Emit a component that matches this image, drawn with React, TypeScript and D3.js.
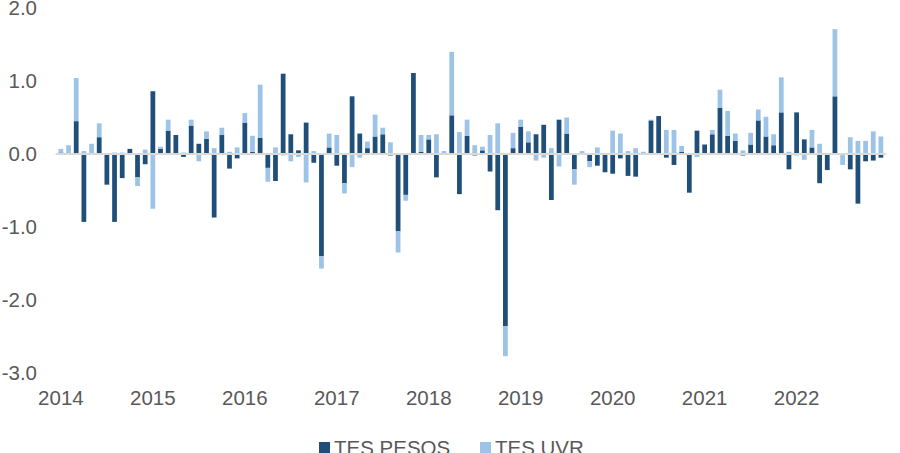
import React from 'react';
import * as d3 from 'd3';

const years = ['2014', '2015', '2016', '2017', '2018', '2019', '2020', '2021', '2022'];
const months = years.flatMap(y => d3.range(1, 13).map(m => `${y}-${String(m).padStart(2, '0')}`));

const tesPesos = [
  0.02, 0, 0.45, -0.93, 0, 0.23, -0.42, -0.93, -0.33, 0.07, -0.32, -0.14,
  0.86, 0.07, 0.32, 0.26, -0.04, 0.39, 0.14, 0.21, -0.87, 0.26, -0.2, -0.06,
  0.43, 0.03, 0.22, -0.19, -0.37, 1.1, 0.27, 0.05, 0.43, -0.12, -1.4, 0.09,
  -0.16, -0.4, 0.79, 0.28, 0.08, 0.24, 0.27, -0.02, -1.06, -0.56, 1.11, 0.03,
  0.2, -0.32, 0, 0.53, -0.55, 0.25, -0.02, 0.05, -0.24, -0.77, -2.36, 0.08,
  0.37, 0.16, 0.27, 0.4, -0.63, 0.47, 0.28, -0.21, 0, -0.1, -0.16, -0.25,
  -0.27, -0.06, -0.3, -0.31, 0, 0.46, 0.52, -0.05, -0.15, 0.03, -0.53, 0.32,
  0.13, 0.27, 0.63, 0.25, 0.18, -0.02, 0.13, 0.46, 0.24, 0.12, 0.57, -0.21,
  0.57, 0.2, 0.09, -0.4, -0.22, 0.79, 0, -0.21, -0.68, -0.1, -0.09, -0.05
];

const tesUvr = [
  0.05, 0.12, 0.59, 0.04, 0.14, 0.19, 0, 0.02, 0.02, 0, -0.12, 0.06,
  -0.75, 0.03, 0.15, 0, 0.02, 0.08, -0.1, 0.1, 0.08, 0.1, 0.03, 0.09,
  0.13, 0.22, 0.73, -0.19, 0.09, -0.02, -0.1, -0.04, -0.39, 0.04, -0.17, 0.19,
  0.26, -0.14, -0.18, -0.05, 0.09, 0.3, 0.09, 0.16, -0.29, -0.08, -0.01, 0.23,
  0.06, 0.27, 0.04, 0.87, 0.3, 0.22, 0.12, 0.05, 0.26, 0.42, -0.41, 0.21,
  0.1, 0.15, -0.09, -0.05, 0.08, -0.17, 0.22, -0.21, 0.04, -0.08, 0.09, 0,
  0.32, 0.28, 0.04, 0.08, 0.03, 0.01, 0, 0.33, 0.33, 0.08, 0, -0.04,
  0, 0.06, 0.25, 0.34, 0.1, 0.05, 0.16, 0.15, 0.27, 0.15, 0.48, 0.03,
  -0.02, -0.08, 0.24, 0.14, 0, 0.92, -0.15, 0.23, 0.18, 0.18, 0.31, 0.24
];

const yTicks = [2, 1, 0, -1, -2, -3];
const seriesNames = ['TES PESOS', 'TES UVR'];
const colors = ['#1F4E79', '#9DC3E6'];

const W = 900;
const H = 453;
const font = '"Liberation Sans", Arial, sans-serif';

// excel style labels: plain hyphen for negatives
const fmt = (v: number) => d3.format('.1f')(v).replace('\u2212', '-');

export default function App() {
  const rows = months.map((m, i) => ({ month: m, pesos: tesPesos[i], uvr: tesUvr[i] }));
  const stack = d3.stack<any>().keys(['pesos', 'uvr']).offset(d3.stackOffsetDiverging);
  const layers = stack(rows);

  const x = d3.scaleBand<string>().domain(months).range([55.6, 886.2]).padding(0.38);
  const y = d3.scaleLinear().domain([-3, 2]).range([373, 8]);

  return (
    <svg width={W} height={H} style={{ position: 'absolute', left: 0, top: 0, background: '#fff' }}
      fontFamily={font}>
      {layers.map((layer, li) => (
        <g key={layer.key} fill={colors[li]}>
          {layer.map((d, i) => {
            const y0 = y(d[0]);
            const y1 = y(d[1]);
            return (
              <rect key={i} x={x(months[i])} width={x.bandwidth()}
                y={Math.min(y0, y1)} height={Math.abs(y0 - y1)} />
            );
          })}
        </g>
      ))}
      <line x1={55.6} x2={886.2} y1={y(0)} y2={y(0)} stroke="#D9D9D9" strokeWidth={2} />
      <g fill="#595959" fontSize={20.5} textAnchor="end">
        {yTicks.map(t => (
          <text key={t} x={37} y={y(t)} dy="0.35em">{fmt(t)}</text>
        ))}
      </g>
      <g fill="#595959" fontSize={20.5} textAnchor="middle">
        {years.map(yr => (
          <text key={yr} x={x(`${yr}-01`)! + x.bandwidth() / 2} y={405}>{yr}</text>
        ))}
      </g>
      <g fill="#595959" fontSize={20.5}>
        {seriesNames.map((s, i) => {
          const lx = [319, 480][i];
          return (
            <g key={s}>
              <rect x={lx} y={442} width={11} height={11} fill={colors[i]} />
              <text x={lx + 15} y={455}>{s}</text>
            </g>
          );
        })}
      </g>
    </svg>
  );
}
